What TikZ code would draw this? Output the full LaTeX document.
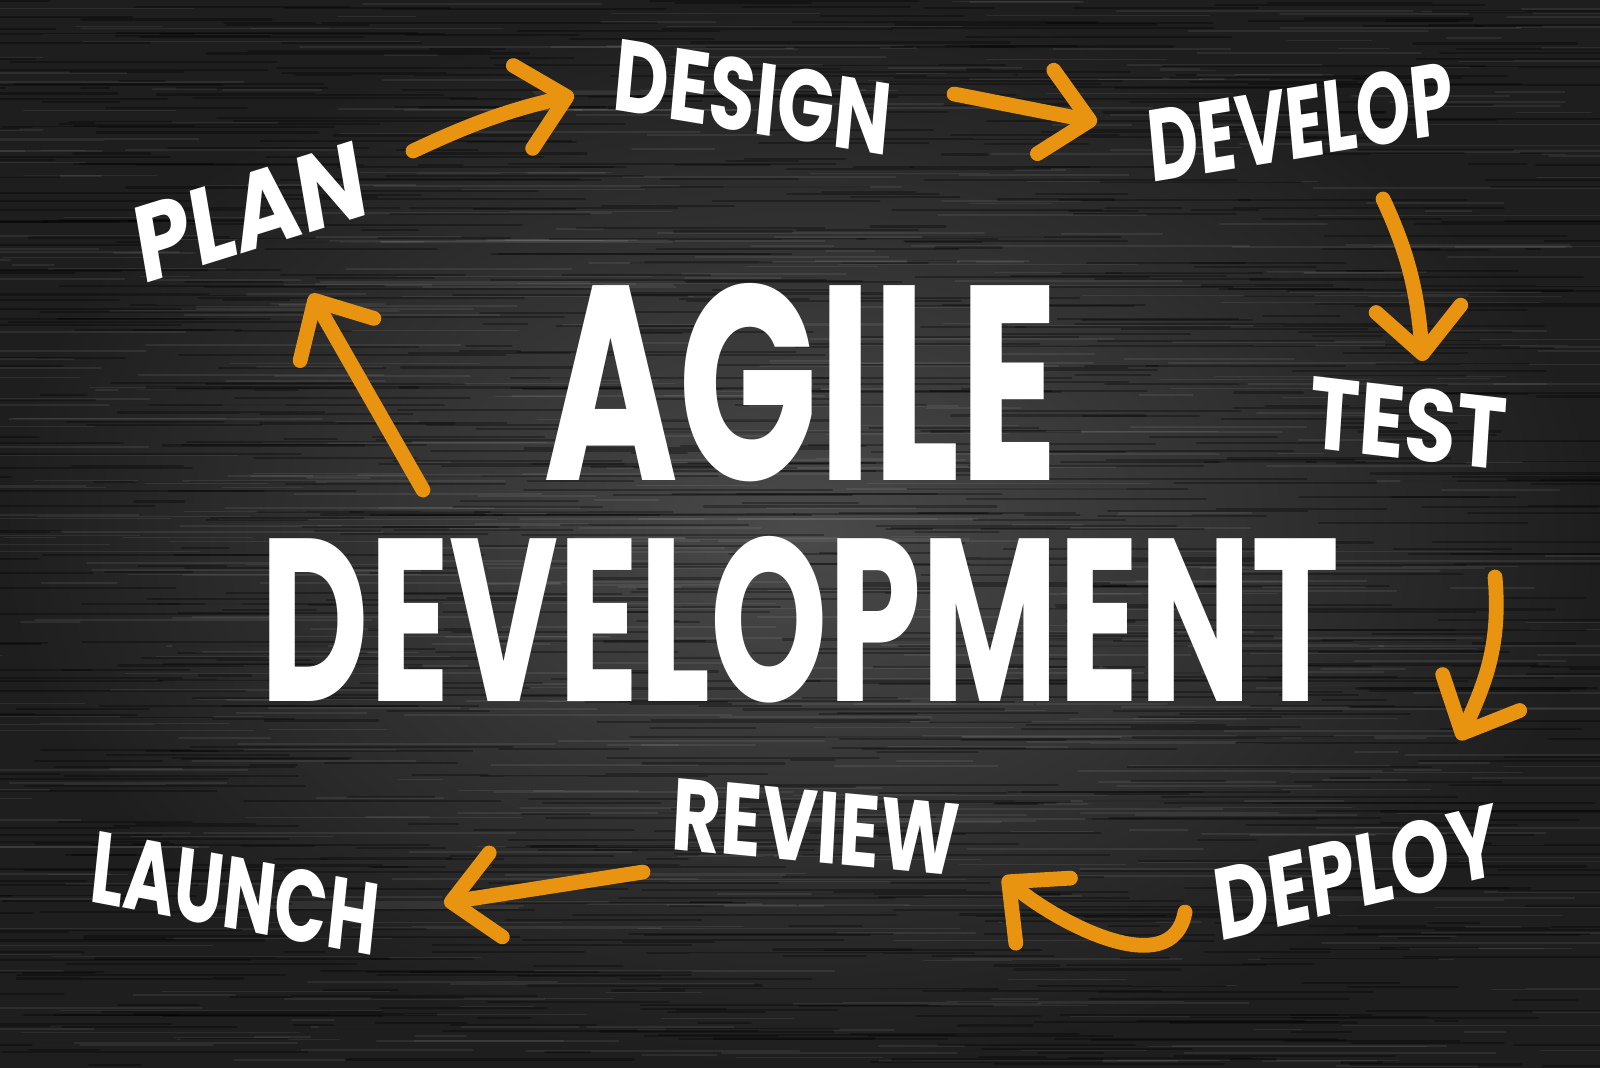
\documentclass[tikz,border=0pt]{standalone}
\usepackage{fontspec}
\setmainfont{Poppins}
\usetikzlibrary{arrows.meta}
\definecolor{board}{HTML}{333333}
\definecolor{boardlight}{HTML}{4A4A4A}
\definecolor{boarddark}{HTML}{1E1E1E}
\definecolor{brush}{RGB}{232,148,16}
\begin{document}
\begin{tikzpicture}[line join=round, line cap=round,
  word/.style={text=white, font=\bfseries\fontsize{29}{29}\selectfont, inner sep=0pt, xscale=0.74},
  bigword/.style={text=white, font=\bfseries\fontsize{79}{79}\selectfont, inner sep=0pt, xscale=0.66},
  arr/.style={draw=brush, line width=4.2pt, -{Straight Barb[round, length=4.5mm, width=8.5mm]}}]
  \useasboundingbox (0,0) rectangle (16,10.67);
  % board
  \fill[board] (0,0) rectangle (16,10.67);
  \shade[inner color=boardlight, outer color=boarddark] (0,0) rectangle (16,10.67);
  \begin{scope}
    \clip (0,0) rectangle (16,10.67);
    \pgfmathsetseed{11}
    \foreach \i in {1,...,700}{
      \pgfmathsetmacro{\yy}{rnd*10.67}
      \pgfmathsetmacro{\xx}{rnd*17-1.5}
      \pgfmathsetmacro{\ll}{0.4+3*rnd}
      \draw[white, opacity=0.07, line width=0.45pt] (\xx,\yy) -- ++(\ll,0);
    }
    \foreach \i in {1,...,1000}{
      \pgfmathsetmacro{\yy}{rnd*10.67}
      \pgfmathsetmacro{\xx}{rnd*17-1.5}
      \pgfmathsetmacro{\ll}{0.4+3*rnd}
      \draw[black, opacity=0.3, line width=0.6pt] (\xx,\yy) -- ++(\ll,0);
    }
  \end{scope}
  % title
  \node[bigword] (agile) at (8.01,6.84) {AGILE};
  \node[bigword, xscale=0.975, font=\bfseries\fontsize{66}{66}\selectfont] (development) at (8.0,4.47) {DEVELOPMENT};
  % steps
  \node[word, rotate=13, xscale=1.12, font=\bfseries\fontsize{31}{31}\selectfont] (plan) at (2.50,8.55) {PLAN};
  \node[word, rotate=-7] (design) at (7.53,9.70) {DESIGN};
  \node[word, rotate=7, xscale=0.92] (develop) at (13.01,9.45) {DEVELOP};
  \node[word, rotate=-5, xscale=1.12] (test) at (14.08,6.44) {TEST};
  \node[word, rotate=10] (deploy) at (13.57,1.95) {DEPLOY};
  \node[word, rotate=-4] (review) at (8.16,2.40) {REVIEW};
  \node[word, rotate=-8, xscale=0.92] (launch) at (2.35,1.74) {LAUNCH};
  \coordinate (back) at (4.23,5.77);
  % arrows
  \draw[arr] ([shift={(1.63,0.61)}]plan.center) to[bend left=6] ([shift={(-1.79,0.02)}]design.center);
  \draw[arr] ([shift={(2.01,0.03)}]design.center) -- ([shift={(-2.04,0)}]develop.center);
  \draw[arr] ([shift={(0.82,-0.77)}]develop.center) to[out=-65,in=95] ([shift={(0.15,0.62)}]test.center);
  \draw[arr] ([shift={(0.87,-1.54)}]test.center) to[out=-85,in=65] ([shift={(1.02,1.32)}]deploy.center);
  \draw[arr] ([shift={(-1.72,-0.40)}]deploy.center) to[out=-100,in=-40] ([shift={(1.87,-0.50)}]review.center);
  \draw[arr] ([shift={(-1.73,-0.45)}]review.center) -- ([shift={(2.09,-0.10)}]launch.center);
  \draw[arr] (back) -- ([shift={(0.61,-0.82)}]plan.center);
\end{tikzpicture}
\end{document}
